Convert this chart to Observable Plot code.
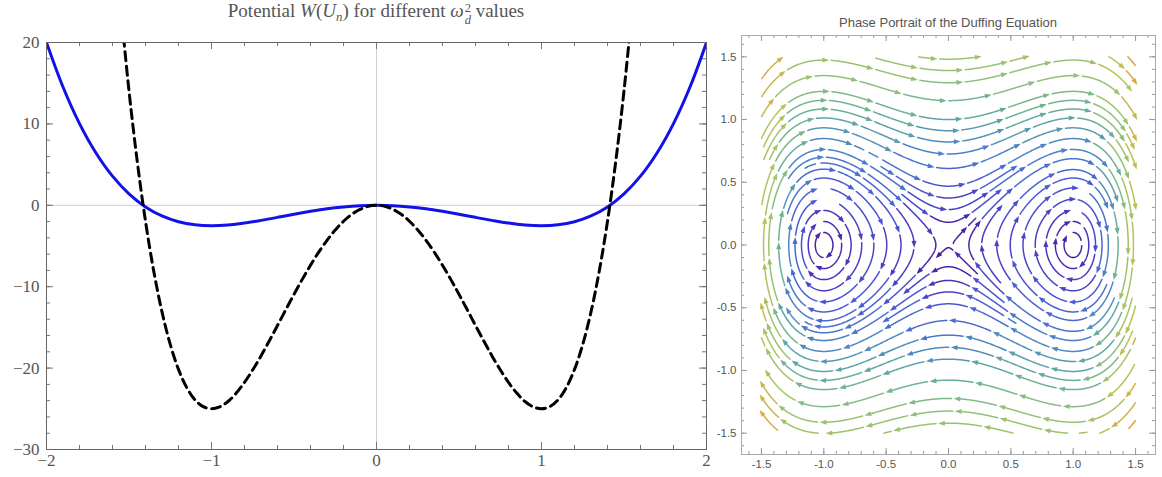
<!DOCTYPE html>
<html><head><meta charset="utf-8">
<script src="https://cdn.jsdelivr.net/npm/d3@7"></script>
<script src="https://cdn.jsdelivr.net/npm/@observablehq/plot@0.6"></script>
<style>
body{margin:0;background:#fff;}
#wrap{position:relative;width:1162px;height:477px;overflow:hidden;background:#fff;}
#left,#right{position:absolute;top:0;}
#left{left:0;} #right{left:708px;}
.t1{position:absolute;left:46px;width:660px;top:0px;text-align:center;font-family:"Liberation Serif","Times New Roman",serif;font-size:19px;color:#555;white-space:nowrap;}
.t1 sub{font-size:0.68em;vertical-align:-0.3em;line-height:0;}
.ss{display:inline-flex;flex-direction:column;vertical-align:0.42em;font-size:0.66em;line-height:0.95;margin-left:1px;}
.t2{position:absolute;left:741px;width:414px;top:15px;text-align:center;font-family:"Liberation Sans",Arial,sans-serif;font-size:13px;color:#555;white-space:nowrap;}
</style></head>
<body>
<div id="wrap">
  <div id="left"></div>
  <div id="right"></div>
  <div class="t1">Potential <i>W</i>(<i>U<sub>n</sub></i>) for different <i>ω</i><span class="ss"><span>2</span><span><i>d</i></span></span> values</div>
  <div class="t2">Phase Portrait of the Duffing Equation</div>
</div>
<script>
// ---------- Left panel data ----------
const blueX = [-2.0,-1.9,-1.8,-1.7,-1.6,-1.5,-1.4,-1.3,-1.2,-1.1,-1.0,-0.9,-0.8,-0.7,-0.6,-0.5,-0.4,-0.3,-0.2,-0.1,0.0,0.1,0.2,0.3,0.4,0.5,0.6,0.7,0.8,0.9,1.0,1.1,1.2,1.3,1.4,1.5,1.6,1.7,1.8,1.9,2.0];
const blueY = [20.0,14.53,10.04,6.43,3.58,1.41,-0.20,-1.31,-2.02,-2.39,-2.50,-2.41,-2.18,-1.85,-1.48,-1.09,-0.74,-0.43,-0.20,-0.05,0.0,-0.05,-0.20,-0.43,-0.74,-1.09,-1.48,-1.85,-2.18,-2.41,-2.50,-2.39,-2.02,-1.31,-0.20,1.41,3.58,6.43,10.04,14.53,20.0];
const dashX = [-1.55,-1.50,-1.45,-1.40,-1.35,-1.30,-1.25,-1.20,-1.15,-1.10,-1.05,-1.00,-0.95,-0.90,-0.85,-0.80,-0.75,-0.70,-0.65,-0.60,-0.55,-0.50,-0.45,-0.40,-0.35,-0.30,-0.25,-0.20,-0.15,-0.10,-0.05,0.00,0.05,0.10,0.15,0.20,0.25,0.30,0.35,0.40,0.45,0.50,0.55,0.60,0.65,0.70,0.75,0.80,0.85,0.90,0.95,1.00,1.05,1.10,1.15,1.20,1.25,1.30,1.35,1.40,1.45,1.50,1.55];
const dashY = [24.18,14.06,5.39,-1.96,-8.09,-13.10,-17.09,-20.16,-22.40,-23.90,-24.74,-25.00,-24.76,-24.10,-23.07,-21.76,-20.21,-18.50,-16.66,-14.76,-12.84,-10.94,-9.10,-7.36,-5.75,-4.30,-3.03,-1.96,-1.11,-0.50,-0.12,0.00,-0.12,-0.50,-1.11,-1.96,-3.03,-4.30,-5.75,-7.36,-9.10,-10.94,-12.84,-14.76,-16.66,-18.50,-20.21,-21.76,-23.07,-24.10,-24.76,-25.00,-24.74,-23.90,-22.40,-20.16,-17.09,-13.10,-8.09,-1.96,5.39,14.06,24.18];
const potentialXTicks = [-2,-1,0,1,2];
const potentialYTicks = [-30,-20,-10,0,10,20];

// ---------- Right panel data ----------
// Duffing equation x'' = alpha*x - beta*x^3 (undamped, unforced)
const duffingAlpha = 1;
const duffingBeta = 1;
const phaseRange = [-1.5, 1.5];
const phaseSeeds = [[0, 1.0], [1.0, 0.1], [-1.0, 0.1]];
const phaseTicks = [-1.5,-1.0,-0.5,0.0,0.5,1.0,1.5];

// ---------- Left plot ----------
const blueData = blueX.map((x, i) => ({x, y: blueY[i]}));
const dashData = dashX.map((x, i) => ({x, y: dashY[i]}));
const fmtL = d => d < 0 ? "\u2212" + Math.abs(d) : String(d);

function frameTicks(xs, ys, len, W, H, stroke) {
  return [
    Plot.ruleX(xs, {x: d => d, insetTop: H - len, stroke}),
    Plot.ruleX(xs, {x: d => d, insetBottom: H - len, stroke}),
    Plot.ruleY(ys, {y: d => d, insetRight: W - len, stroke}),
    Plot.ruleY(ys, {y: d => d, insetLeft: W - len, stroke})
  ];
}
const LW = 660, LH = 407;
const lxMinor = d3.range(-20, 21, 2).map(v => v / 10);
const lyMinor = d3.range(-30, 21, 2);

const leftPlot = Plot.plot({
  width: 708, height: 477, marginLeft: 46, marginRight: 2, marginTop: 42, marginBottom: 28,
  x: {domain: [-2, 2]}, y: {domain: [-30, 20]},
  style: {fontFamily: '"Liberation Serif","Times New Roman",serif', fontSize: "17px", color: "#555", background: "transparent", overflow: "visible"},
  marks: [
    Plot.ruleX([0], {stroke: "#cfcfcf", strokeWidth: 1}),
    Plot.ruleY([0], {stroke: "#cfcfcf", strokeWidth: 1}),
    ...frameTicks(lxMinor, lyMinor, 4, LW, LH, "#777"),
    ...frameTicks(potentialXTicks, potentialYTicks, 7, LW, LH, "#777"),
    Plot.line(blueData, {x: "x", y: "y", stroke: "#1212e8", strokeWidth: 3, curve: "catmull-rom", clip: true}),
    Plot.line(dashData, {x: "x", y: "y", stroke: "#000", strokeWidth: 3, strokeDasharray: "9,5.5", curve: "catmull-rom", clip: true}),
    Plot.frame({stroke: "#666"}),
    Plot.axisX({ticks: potentialXTicks, tickSize: 0, tickPadding: 4, tickFormat: fmtL, label: null}),
    Plot.axisY({ticks: potentialYTicks, tickSize: 0, tickPadding: 7, tickFormat: fmtL, label: null})
  ]
});
document.getElementById("left").append(leftPlot);

// ---------- Streamlines of the Duffing field (evenly spaced) ----------
function field(x, y) { return [y, duffingAlpha * x - duffingBeta * x * x * x]; }
const dsep = 0.088, dtest = 0.042, h = 0.005, minLen = 0.07;
const lo = phaseRange[0], hi = phaseRange[1];
const grid = new Map();
const cell = v => Math.floor((v + 2) / dsep);
const key = (i, j) => i + "," + j;
function addPt(g, p) { const k = key(cell(p[0]), cell(p[1])); let a = g.get(k); if (!a) { a = []; g.set(k, a); } a.push(p); }
function near(g, x, y, d, filter) {
  const cx = cell(x), cy = cell(y), d2 = d * d;
  for (let i = -1; i <= 1; i++) for (let j = -1; j <= 1; j++) {
    const arr = g.get(key(cx + i, cy + j)); if (!arr) continue;
    for (const p of arr) {
      if (filter && !filter(p)) continue;
      const dx = p[0] - x, dy = p[1] - y;
      if (dx * dx + dy * dy < d2) return true;
    }
  }
  return false;
}
function dir(x, y) { const [u, v] = field(x, y); const m = Math.hypot(u, v); return m < 1e-9 ? null : [u / m, v / m]; }
function rk4(x, y, s) {
  const k1 = dir(x, y); if (!k1) return null;
  const k2 = dir(x + s * k1[0] / 2, y + s * k1[1] / 2); if (!k2) return null;
  const k3 = dir(x + s * k2[0] / 2, y + s * k2[1] / 2); if (!k3) return null;
  const k4 = dir(x + s * k3[0], y + s * k3[1]); if (!k4) return null;
  return [x + s * (k1[0] + 2 * k2[0] + 2 * k3[0] + k4[0]) / 6, y + s * (k1[1] + 2 * k2[1] + 2 * k3[1] + k4[1]) / 6];
}
function half(seed, sign, own) {
  const pts = []; let p = seed;
  for (let i = 1; i < 6000; i++) {
    const q = rk4(p[0], p[1], sign * h); if (!q) break;
    if (q[0] < lo || q[0] > hi || q[1] < lo || q[1] > hi) break;
    const f = field(q[0], q[1]); if (Math.hypot(f[0], f[1]) < 0.02) break;
    const s = sign * i * h;
    if (near(grid, q[0], q[1], dtest)) break;
    if (near(own, q[0], q[1], dtest, o => Math.abs(o[2] - s) > 0.3)) break;
    const pt = [q[0], q[1], s];
    pts.push(pt); addPt(own, pt); p = q;
  }
  return pts;
}
function trace(seed) {
  const own = new Map();
  const s0 = [seed[0], seed[1], 0]; addPt(own, s0);
  const f = half(seed, 1, own);
  const b = half(seed, -1, own);
  return b.reverse().concat([s0], f);
}
function validSeed(x, y) {
  if (x < lo || x > hi || y < lo || y > hi) return false;
  const f = field(x, y); if (Math.hypot(f[0], f[1]) < 0.03) return false;
  return !near(grid, x, y, dsep);
}
const lines = [];
function tryLine(seed) {
  if (!validSeed(seed[0], seed[1])) return null;
  const ln = trace(seed);
  if ((ln.length - 1) * h < minLen) return null;
  ln.forEach(p => addPt(grid, p));
  lines.push(ln);
  return ln;
}
const queue = [];
function drain() {
  let qi = 0;
  while (qi < queue.length) {
    const ln = queue[qi++];
    for (let i = 0; i < ln.length; i += 5) {
      const p = ln[i]; const d = dir(p[0], p[1]); if (!d) continue;
      for (const sg of [1, -1]) {
        const l = tryLine([p[0] - sg * d[1] * dsep, p[1] + sg * d[0] * dsep]);
        if (l) queue.push(l);
      }
    }
  }
  queue.length = 0;
}
for (const s of phaseSeeds) { const l = tryLine(s); if (l) queue.push(l); }
drain();
for (let gy = lo + 0.02; gy < hi; gy += 0.04) for (let gx = lo + 0.02; gx < hi; gx += 0.04) {
  const l = tryLine([gx, gy]); if (l) { queue.push(l); drain(); }
}

// split into dashes with arrowheads
const pieceLen = 0.32, gapLen = 0.045, period = pieceLen + gapLen;
const pieces = [], arrows = [];
let pid = 0;
lines.forEach((ln, li) => {
  const total = (ln.length - 1) * h;
  const offset = ((li * 0.618) % 1) * period;
  for (let start = -offset; start < total; start += period) {
    const a = Math.max(0, start), b = Math.min(total, start + pieceLen);
    if (b - a < 0.05) continue;
    const ia = Math.round(a / h), ib = Math.round(b / h);
    const mid = ln[Math.round((ia + ib) / 2)];
    const f = field(mid[0], mid[1]);
    const c = Math.hypot(f[0], f[1]);
    for (let k = ia; k <= ib; k++) pieces.push({x: ln[k][0], y: ln[k][1], id: pid, c});
    if (b - a > 0.1) {
      const e = ln[Math.max(ia, ib - 1)];
      const d = dir(e[0], e[1]);
      if (d) arrows.push({x: e[0], y: e[1], a: Math.atan2(d[0], d[1]) * 180 / Math.PI, c});
    }
    pid++;
  }
});

const arrowSym = {draw(ctx) { ctx.moveTo(0, -4.2); ctx.lineTo(2.5, 2.6); ctx.lineTo(-2.5, 2.6); ctx.closePath(); }};
const fmtR = d => d.toFixed(1);
const RW = 414, RH = 419;
const rMinor = d3.range(-16, 17, 1).map(v => v / 10);
const colorScale = {
  type: "linear",
  domain: [0, 0.25, 0.5, 0.8, 1.05, 1.35, 1.75, 2.1, 2.45],
  range: ["#45178f", "#4c2cb8", "#4a58d4", "#4c82c8", "#62aaa2", "#8fc27a", "#b8c356", "#d9ad48", "#e08a36"],
  clamp: true
};

const rightPlot = Plot.plot({
  width: 454, height: 477, marginLeft: 33, marginRight: 7, marginTop: 35, marginBottom: 23,
  x: {domain: [-1.66, 1.66]}, y: {domain: [-1.67, 1.67]},
  color: colorScale,
  style: {fontFamily: '"Liberation Sans",Arial,sans-serif', fontSize: "11.5px", color: "#555", background: "transparent", overflow: "visible"},
  marks: [
    ...frameTicks(rMinor, rMinor, 3, RW, RH, "#999"),
    ...frameTicks(phaseTicks, phaseTicks, 6, RW, RH, "#999"),
    Plot.line(pieces, {x: "x", y: "y", z: "id", stroke: "c", strokeWidth: 1.5}),
    Plot.dot(arrows, {x: "x", y: "y", symbol: arrowSym, rotate: "a", fill: "c", stroke: "none", r: 3}),
    Plot.frame({stroke: "#aaa"}),
    Plot.axisX({ticks: phaseTicks, tickSize: 0, tickPadding: 5, tickFormat: fmtR, label: null}),
    Plot.axisY({ticks: phaseTicks, tickSize: 0, tickPadding: 5, tickFormat: fmtR, label: null})
  ]
});
document.getElementById("right").append(rightPlot);
</script>
</body></html>
